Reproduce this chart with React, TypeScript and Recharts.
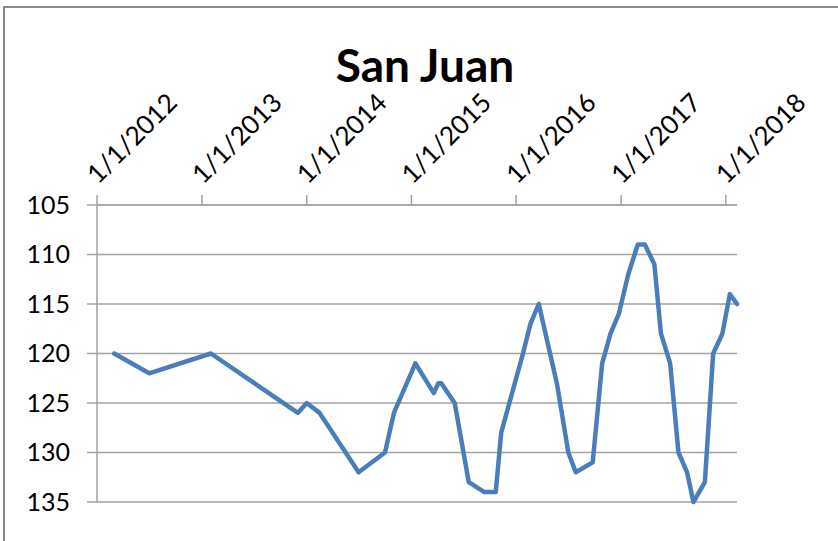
import { CartesianGrid, Line, LineChart, XAxis, YAxis } from "recharts";

const dates = [
  "3/1/2012", "7/1/2012", "2/1/2013", "12/1/2013", "1/1/2014", "2/15/2014",
  "7/1/2014", "10/1/2014", "11/1/2014", "1/15/2015", "3/20/2015", "4/5/2015",
  "4/15/2015", "6/1/2015", "7/20/2015", "9/12/2015", "10/22/2015", "11/10/2015",
  "1/25/2016", "2/20/2016", "3/20/2016", "5/22/2016", "7/1/2016", "7/27/2016",
  "9/24/2016", "10/27/2016", "11/25/2016", "12/24/2016", "1/26/2017", "2/28/2017",
  "3/25/2017", "4/27/2017", "5/20/2017", "6/21/2017", "7/20/2017", "8/19/2017",
  "9/10/2017", "10/20/2017", "11/18/2017", "12/20/2017", "1/15/2018", "2/9/2018"
];

const values = [
  120, 122, 120, 126, 125, 126,
  132, 130, 126, 121, 124, 123,
  123, 125, 133, 134, 134, 128,
  120, 117, 115, 123, 130, 132,
  131, 121, 118, 116, 112, 109,
  109, 111, 118, 121, 130, 132,
  135, 133, 120, 118, 114, 115
];

const xTickLabels = ["1/1/2012", "1/1/2013", "1/1/2014", "1/1/2015", "1/1/2016", "1/1/2017", "1/1/2018"];
const yTicks = [105, 110, 115, 120, 125, 130, 135];

const toTime = (s: string) => {
  const [m, d, y] = s.split("/").map(Number);
  return Date.UTC(y, m - 1, d);
};

const data = dates.map((d, i) => ({ t: toTime(d), value: values[i] }));
const xTicks = xTickLabels.map(toTime);

const GRID = "#a3a3a3";
const FONT = "Lato, 'Open Sans', sans-serif";

function DateTick({ x, y, payload }: any) {
  const i = xTicks.indexOf(payload.value);
  const label = i >= 0 ? xTickLabels[i] : "";
  const px = x + 1;
  return (
    <text
      x={px}
      y={y}
      transform={`rotate(-45 ${px} ${y})`}
      textAnchor="start"
      fontSize={26}
      fontFamily={FONT}
      fill="#000"
    >
      {label}
    </text>
  );
}

export default function App() {
  return (
    <div style={{ position: "absolute", left: 0, top: 0, width: 838, height: 541, background: "#fff" }}>
      <div
        style={{
          position: "absolute",
          left: 3,
          top: 6,
          right: -10,
          bottom: -10,
          borderLeft: "2px solid #8a8a8a",
          borderTop: "2px solid #8a8a8a"
        }}
      />
      <svg width={838} height={541} style={{ position: "absolute", left: 0, top: 0 }}>
        <text x={425} y={82} textAnchor="middle" fontSize={46} fontWeight="bold" fontFamily={FONT} fill="#000">
          San Juan
        </text>
      </svg>
      <div style={{ position: "absolute", left: 0, top: 0 }}>
        <LineChart width={838} height={541} data={data} margin={{ top: 175, right: 101, bottom: 39, left: 37 }}>
          <CartesianGrid vertical={false} stroke={GRID} strokeWidth={1.5} />
          <XAxis
            dataKey="t"
            type="number"
            orientation="top"
            height={30}
            domain={[xTicks[0], toTime(dates[dates.length - 1])]}
            ticks={xTicks}
            tickSize={10}
            tickMargin={10}
            tick={<DateTick />}
            axisLine={{ stroke: GRID, strokeWidth: 1.5 }}
            tickLine={{ stroke: GRID, strokeWidth: 1.5 }}
            interval={0}
          />
          <YAxis
            reversed
            width={60}
            domain={[105, 135]}
            ticks={yTicks}
            interval={0}
            tickSize={10}
            tickMargin={17}
            tick={{ fontSize: 25, fontFamily: FONT, fill: "#000" }}
            axisLine={{ stroke: GRID, strokeWidth: 1.5 }}
            tickLine={{ stroke: GRID, strokeWidth: 1.5 }}
          />
          <Line
            dataKey="value"
            type="linear"
            stroke="#4a7ebb"
            strokeWidth={4.5}
            strokeLinejoin="round"
            strokeLinecap="round"
            dot={false}
            isAnimationActive={false}
          />
        </LineChart>
      </div>
    </div>
  );
}
